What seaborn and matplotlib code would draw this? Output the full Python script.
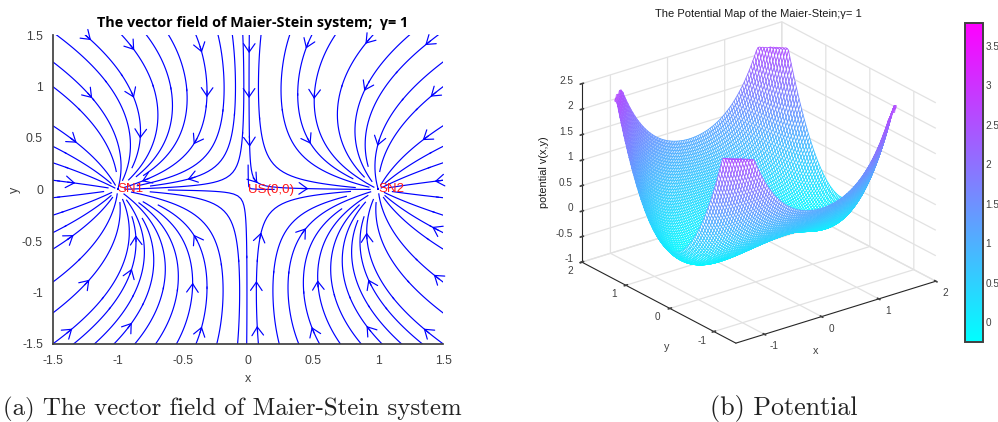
import numpy as np
import matplotlib
matplotlib.use("Agg")
import matplotlib.pyplot as plt
import seaborn as sns
from matplotlib.colors import Normalize
from matplotlib.cm import ScalarMappable
from mpl_toolkits.mplot3d import proj3d
from mpl_toolkits.mplot3d.art3d import Poly3DCollection

# the title names the system, so the field and the potential come from its equations
gamma = 1
v_min = -0.25
v_max = 3.797
z_clip = 2.5

# streamline seeds
side_y = [1.24, 1.0, 0.62, 0.42, 0.26, 0.09, -0.08, -0.25, -0.42, -0.58, -0.90, -1.20, -1.5]
top_x = [-1.47, -1.25, -0.97, -0.78, -0.61, -0.40, -0.23, -0.12, -0.04,
         0.01, 0.10, 0.32, 0.49, 0.67, 0.96, 1.24, 1.46]
bottom_x = [-1.34, -1.18, -1.03, -0.87, -0.71, -0.55, -0.40, -0.24, -0.08, -0.01,
            0.01, 0.08, 0.24, 0.39, 0.55, 0.71, 0.87, 1.03, 1.18, 1.34]
inner_seeds = [(0.06, 0.003), (-0.12, 0.003), (0.12, -0.02), (-0.12, -0.02)]

# arrow heads
arrow_x = [-1.23, -0.88, -1.22, -0.88, -0.82, -1.33, -0.37, -0.31, -0.39, -1.37, -0.80, -0.43,
           0.01, 0.01, 0.01, 0.46, 0.51, 0.46, 0.92, 0.91, 1.0, 1.37, 1.41, 1.37, 1.45, 0.07, 0.42,
           -1.37, -0.86, -0.39, -1.24, -0.91, -0.43, -1.37, -0.92, -0.37,
           0.09, 0.06, 0.07, 0.44, 0.54, 0.50, 0.91, 0.94, 0.94, 1.45, 1.45, 1.37]
arrow_y = [1.47, 1.37, 0.92, 0.92, 0.53, 0.46, 1.36, 0.91, 0.46, 0.08, 0.08, 0.10,
           1.37, 0.92, 0.46, 1.40, 0.92, 0.46, 1.44, 0.98, 0.46, 1.42, 0.93, 0.51, 0.08, 0.09, 0.02,
           -0.46, -0.47, -0.46, -0.91, -0.80, -0.93, -1.36, -1.32, -1.37,
           -0.46, -0.91, -1.37, -0.39, -0.91, -1.37, -0.46, -0.91, -1.36, -0.39, -0.85, -1.37]

field_ticks = [-1.5, -1, -0.5, 0, 0.5, 1, 1.5]
field_labels = ["-1.5", "-1", "-0.5", "0", "0.5", "1", "1.5"]
node_x = [-1, 0, 1]
node_names = ["SN1", "US(0,0)", "SN2"]

box_ticks = [-1, 0, 1, 2]
box_labels = ["-1", "0", "1", "2"]
z_ticks = [-1, -0.5, 0, 0.5, 1, 1.5, 2, 2.5]
z_labels = ["-1", "-0.5", "0", "0.5", "1", "1.5", "2", "2.5"]
bar_ticks = [0, 0.5, 1, 1.5, 2, 2.5, 3, 3.5]
bar_labels = ["0", "0.5", "1", "1.5", "2", "2.5", "3", "3.5"]

grey = "#404040"
sns.set_theme(style="white", rc={
    "grid.color": "#e2e2e2", "grid.linewidth": 0.9, "axes.unicode_minus": False,
    "axes.edgecolor": grey, "text.color": "#1a1a1a", "axes.labelcolor": grey,
    "xtick.color": grey, "ytick.color": grey,
})
plt.rcParams["font.family"] = ["Liberation Sans", "DejaVu Sans"]
W, H = 998, 422
fig = plt.figure(figsize=(W / 100, H / 100), dpi=100)


def flow(x, y):
    return x - x**3 - gamma * x * y**2, -(1 + x**2) * y


def potential(x, y):
    return -x**2 / 2 + x**4 / 4 + (1 + x**2) * y**2 / 2


# left panel; the grid runs past the axes so lines reach the frame
ax = fig.add_axes([52.7 / W, 1 - 344 / H, 390.6 / W, 309 / H])
gx = np.linspace(-1.8, 1.8, 145)
X, Y = np.meshgrid(gx, gx)
U, V = flow(X, Y)
seeds = ([(-1.5, s) for s in side_y] + [(1.5, s) for s in side_y]
         + [(s, 1.5) for s in top_x] + [(s, -1.5) for s in bottom_x] + inner_seeds)
stream = ax.streamplot(gx, gx, U, V, start_points=seeds, density=3.3, color="#0000ff",
                       linewidth=0.85, arrowstyle="-", integration_direction="both")
pts = np.vstack(stream.lines.get_segments())
for ax_x, ax_y in zip(arrow_x, arrow_y):
    p = pts[np.argmin(np.hypot(pts[:, 0] - ax_x, pts[:, 1] - ax_y))]
    u, v = flow(p[0], p[1])
    d = np.array([u, v]) / np.hypot(u, v)
    ax.annotate("", xy=p + d * 0.03, xytext=p - d * 0.03,
                arrowprops=dict(arrowstyle="->,head_length=0.55,head_width=0.38",
                                color="#0000ff", lw=0.85, mutation_scale=11,
                                shrinkA=0, shrinkB=0))
for nx, name in zip(node_x, node_names):
    ax.text(nx, 0, name, color="#ff1a1a", fontsize=9.6, ha="left", va="center")
ax.set_xlim(-1.5, 1.5)
ax.set_ylim(-1.5, 1.5)
ax.set_xticks(field_ticks, field_labels)
ax.set_yticks(field_ticks, field_labels)
ax.tick_params(direction="in", length=3, width=0.7, labelsize=8.8)
ax.tick_params(axis="x", pad=8)
ax.tick_params(axis="y", pad=7)
ax.set_xlabel("x", fontsize=9, labelpad=4)
ax.set_ylabel("y", fontsize=9, labelpad=1)
sns.despine(ax=ax)
fig.text(253 / W, 1 - 23 / H, "The vector field of Maier-Stein system;  γ= 1",
         fontsize=10.4, fontweight="bold", family="Open Sans", color="black",
         ha="center", va="center")

# right panel
cool = sns.color_palette("cool", as_cmap=True)
norm = Normalize(v_min, v_max)
ax3 = fig.add_axes([556 / W, 1 - 385.3 / H, 395 / W, 395 / H], projection="3d",
                   proj_type="ortho")
ax3.patch.set_alpha(0)
ax3.view_init(elev=23.8, azim=-127.5)
ax3.set_box_aspect((252, 253, 195))
mesh = np.linspace(-1.5, 1.5, 101)
MX, MY = np.meshgrid(mesh, mesh)
MZ = potential(MX, MY)
polys, edge = [], []
for i in range(len(mesh) - 1):
    for j in range(len(mesh) - 1):
        idx = [(i, j), (i + 1, j), (i + 1, j + 1), (i, j + 1)]
        zs = [MZ[k] for k in idx]
        if min(zs) >= z_clip:
            continue
        polys.append([(MX[k], MY[k], min(MZ[k], z_clip)) for k in idx])
        edge.append(cool(norm(np.mean(zs))))
ax3.add_collection3d(Poly3DCollection(polys, facecolors="white", edgecolors=edge, linewidths=0.6))
ax3.set_xlim(-1.5, 2)
ax3.set_ylim(-1.5, 2)
ax3.set_zlim(-1, 2.5)
ax3.set_xticks(box_ticks, [""] * len(box_ticks))
ax3.set_yticks(box_ticks, [""] * len(box_ticks))
ax3.set_zticks(z_ticks, [""] * len(z_ticks))
for axis in (ax3.xaxis, ax3.yaxis, ax3.zaxis):
    axis.set_pane_color((1, 1, 1, 1))
    axis.pane.set_edgecolor("white")
    axis.line.set_color("#262626")
    axis.line.set_linewidth(0.8)
    axis._axinfo["tick"].update(inward_factor=0.1, outward_factor=0.1)


# 3d tick labels sit off the box edges, matplotlib's own spots were a few pixels out
def box_text(x, y, z, name, ha):
    sx, sy, _ = proj3d.proj_transform(x, y, z, ax3.get_proj())
    ax3.text2D(sx, sy, name, transform=ax3.transData, fontsize=7.2, color=grey, ha=ha, va="center")


for t, name in zip(box_ticks, box_labels):
    box_text(t, -1.724, -1.134, name, "center")
    box_text(-1.71, t, -1.104, name, "center")
for t, name in zip(z_ticks, z_labels):
    box_text(-1.5, 2.2, t - 0.03, name, "right")

fig.text(816 / W, 1 - 351 / H, "x", fontsize=7.8, color=grey, ha="center", va="center")
fig.text(667 / W, 1 - 347 / H, "y", fontsize=7.8, color=grey, ha="center", va="center")
fig.text(544 / W, 1 - 172 / H, "potential v(x,y)", fontsize=7.8, color="#1a1a1a",
         rotation=90, ha="center", va="center")
fig.text(758 / W, 1 - 14 / H, "The Potential Map of the Maier-Stein;γ= 1",
         fontsize=8.05, color="#1a1a1a", ha="center", va="center")

cax = fig.add_axes([964.5 / W, 1 - 342 / H, 18 / W, 319.5 / H])
bar = fig.colorbar(ScalarMappable(norm=norm, cmap=cool), cax=cax)
bar.set_ticks(bar_ticks, labels=bar_labels)
bar.ax.tick_params(direction="in", length=3, width=0.7, labelsize=7.2, pad=2)
bar.outline.set_edgecolor(grey)
bar.outline.set_linewidth(1.4)

# captions
fig.text(3 / W, 1 - 409 / H, "(a) The vector field of Maier-Stein system",
         fontsize=17.9, family="cmr10", color="#222222", va="center")
fig.text(710 / W, 1 - 409 / H, "(b) Potential",
         fontsize=18.7, family="cmr10", color="#222222", va="center")

fig.savefig("out.png", dpi=100)
